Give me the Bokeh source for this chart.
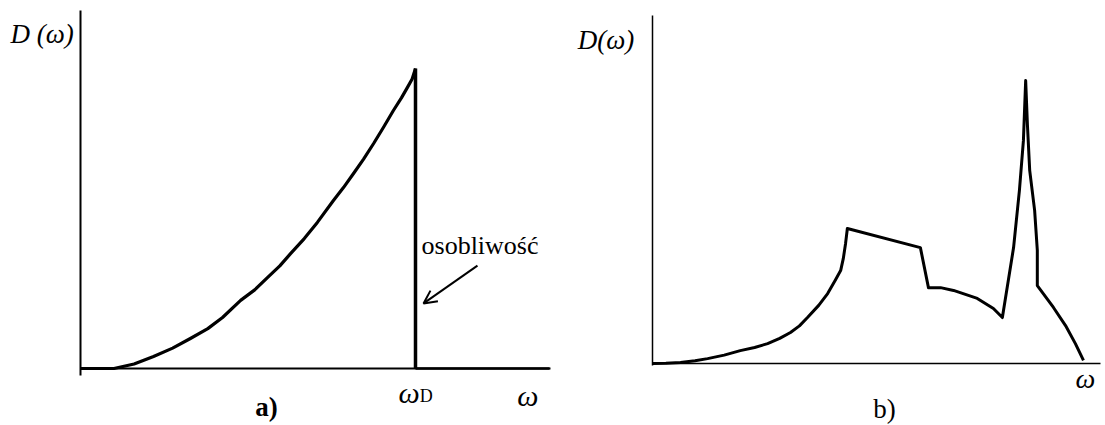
from bokeh.plotting import figure
from bokeh.layouts import row
from bokeh.models import Range1d, Label, Arrow, OpenHead, FixedTicker, LinearAxis
from bokeh.embed import file_html
from bokeh.resources import INLINE

# ---------------- data: panel a (Debye model) ----------------
a_omega = [0.0, 0.10, 0.16, 0.218, 0.275, 0.328, 0.38, 0.424, 0.478, 0.52,
           0.558, 0.595, 0.627, 0.668, 0.707, 0.755, 0.785, 0.815, 0.845,
           0.875, 0.905, 0.934, 0.958, 0.976, 0.99, 1.0]
a_D = [0.0, 0.0, 0.015, 0.04, 0.068, 0.10, 0.133, 0.17, 0.227, 0.262,
       0.303, 0.342, 0.383, 0.433, 0.487, 0.56, 0.603, 0.65, 0.698,
       0.75, 0.805, 0.86, 0.902, 0.937, 0.965, 1.0]
a_edge_omega = [1.0, 1.0]
a_edge_D = [1.0, 0.0]
a_tail_omega = [1.0, 1.40]
a_tail_D = [0.0, 0.0]
a_xaxis_bounds = (0.0, 1.403)
a_yaxis_bounds = (-0.023, 1.193)

# ---------------- data: panel b (real crystal) ----------------
b_omega = [0.0, 0.03, 0.0625, 0.095, 0.123, 0.16, 0.196, 0.228, 0.257,
           0.284, 0.308, 0.328, 0.346, 0.371, 0.391, 0.408, 0.420, 0.426,
           0.431, 0.435, 0.598, 0.616, 0.643, 0.672, 0.725, 0.761, 0.781,
           0.806, 0.819, 0.828, 0.833, 0.837, 0.842, 0.853, 0.859, 0.859,
           0.895, 0.922, 0.944, 0.962]
b_D = [0.0, 0.0005, 0.003, 0.008, 0.014, 0.024, 0.037, 0.046, 0.057,
       0.072, 0.089, 0.108, 0.132, 0.167, 0.201, 0.239, 0.267, 0.302,
       0.345, 0.388, 0.333, 0.218, 0.218, 0.210, 0.187, 0.158, 0.132,
       0.333, 0.497, 0.641, 0.813, 0.684, 0.555, 0.440, 0.325, 0.224,
       0.161, 0.109, 0.057, 0.009]
b_xaxis_bounds = (0.0, 1.0)
b_yaxis_bounds = (-0.006, 1.0)

SERIF = "Liberation Serif"


def make_fig(width, height, xr, yr, xb, yb, axis_w):
    p = figure(width=width, height=height, x_range=xr, y_range=yr,
               output_backend="svg", toolbar_location=None,
               x_axis_location=None, y_axis_location=None,
               min_border=0, min_border_left=0, min_border_right=0,
               min_border_top=0, min_border_bottom=0)
    p.grid.visible = False
    p.outline_line_color = None
    p.background_fill_color = "white"
    p.border_fill_color = "white"
    for side, bnds in (("below", xb), ("left", yb)):
        ax = LinearAxis(fixed_location=0, bounds=bnds,
                        ticker=FixedTicker(ticks=[]),
                        axis_line_color="black", axis_line_width=axis_w,
                        major_tick_line_color=None, minor_tick_line_color=None,
                        major_tick_out=0, major_tick_in=0,
                        major_label_standoff=0,
                        major_label_text_font_size="0px")
        p.add_layout(ax, side)
    return p


def lab(p, x, y, text, size, style="normal"):
    p.add_layout(Label(x=x, y=y, text=text, text_font=SERIF,
                       text_font_size=f"{size}px", text_font_style=style,
                       text_color="black", text_baseline="middle",
                       text_align="left"))


# ---------------- panel a ----------------
pa = make_fig(570, 425, Range1d(-0.2388, 1.4627), Range1d(-0.19, 1.2267),
              a_xaxis_bounds, a_yaxis_bounds, 2)
pa.line(a_omega, a_D, line_width=3.2, line_color="black", line_join="round")
pa.line(a_edge_omega, a_edge_D, line_width=3.5, line_color="black")
pa.line(a_tail_omega, a_tail_D, line_width=2.5, line_color="black")

lab(pa, -0.209, 1.116, "D (ω)", 27, "italic")
lab(pa, 0.949, -0.080, "ω", 30, "italic")
lab(pa, 1.013, -0.093, "D", 18)
lab(pa, 1.304, -0.090, "ω", 30, "italic")
lab(pa, 0.522, -0.128, "a)", 27, "bold")
lab(pa, 1.018, 0.411, "osobliwość", 26)
pa.add_layout(Arrow(x_start=1.185, y_start=0.343, x_end=1.024, y_end=0.217,
                    line_width=2, line_color="black",
                    end=OpenHead(size=13, line_width=2, line_color="black")))

# ---------------- panel b ----------------
pb = make_fig(535, 425, Range1d(-0.183, 1.0112), Range1d(-0.1782, 1.0431),
              b_xaxis_bounds, b_yaxis_bounds, 1.5)
pb.line(b_omega, b_D, line_width=3, line_color="black", line_join="round")

lab(pb, -0.167, 0.930, "D(ω)", 27, "italic")
lab(pb, 0.944, -0.042, "ω", 28, "italic")
lab(pb, 0.493, -0.130, "b)", 27)

layout = row(pa, pb)
open("out.html", "w").write(file_html(layout, INLINE))
